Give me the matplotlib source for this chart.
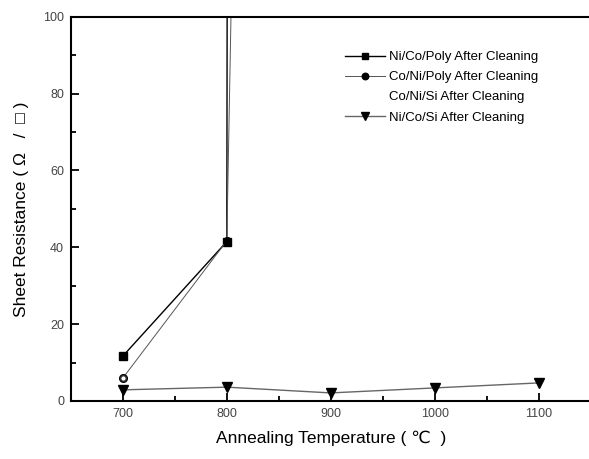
import matplotlib
matplotlib.use('Agg')
import matplotlib.pyplot as plt
from matplotlib.ticker import MultipleLocator

plt.rcParams['font.family'] = ['Liberation Sans', 'DejaVu Sans']

temps = [700, 800, 900, 1000, 1100]
ni_co_poly = [11.7, 41.5, 20000]
co_ni_poly = [6.0, 41.7, 1500]
ni_co_si = [2.9, 3.6, 2.1, 3.4, 4.7]

fig = plt.figure(figsize=(5.89, 4.59), dpi=100)
ax = fig.add_axes([0.1205, 0.1264, 0.882, 0.837])

ax.plot(temps[:3], ni_co_poly, color='black', lw=1.0, marker='s', ms=5.5,
        label='Ni/Co/Poly After Cleaning')
ax.plot(temps[:3], co_ni_poly, color='#555555', lw=0.7, marker='o', ms=5.5,
        mfc='black', mec='black', label='Co/Ni/Poly After Cleaning')
ax.plot(temps[:1], co_ni_poly[:1], ls='none', marker='o', ms=4, mfc='white',
        mec='#333333', mew=1.0)
ax.plot([], [], ls='none', label='Co/Ni/Si After Cleaning')
ax.plot(temps, ni_co_si, color='#666666', lw=1.0, marker='v', ms=7.5,
        mfc='black', mec='black', label='Ni/Co/Si After Cleaning')

ax.set_xlim(650, 1150)
ax.set_ylim(0, 100)
ax.xaxis.set_major_locator(MultipleLocator(100))
ax.xaxis.set_minor_locator(MultipleLocator(50))
ax.yaxis.set_major_locator(MultipleLocator(20))
ax.yaxis.set_minor_locator(MultipleLocator(10))
ax.tick_params(which='both', direction='in', top=False, right=False,
               labelsize=9, labelcolor='#444444', width=1.3)
ax.tick_params(which='major', length=6, pad=5)
ax.tick_params(which='minor', length=3.5)
for s in ['left', 'bottom', 'top']:
    ax.spines[s].set_linewidth(1.5)
ax.spines['right'].set_visible(False)

ax.set_xlabel('Annealing Temperature ( \u2103  )', fontsize=12.5, labelpad=8)
ax.set_ylabel('Sheet Resistance ( \u03a9   /  \u25a1 )', fontsize=12.5,
              labelpad=10)

ax.legend(loc='upper left', bbox_to_anchor=(0.518, 0.925), frameon=False,
          fontsize=9.5, handlelength=3.0, handletextpad=0.3, labelspacing=0.6,
          borderaxespad=0, markerscale=0.85)

fig.savefig('out.png', dpi=100)
